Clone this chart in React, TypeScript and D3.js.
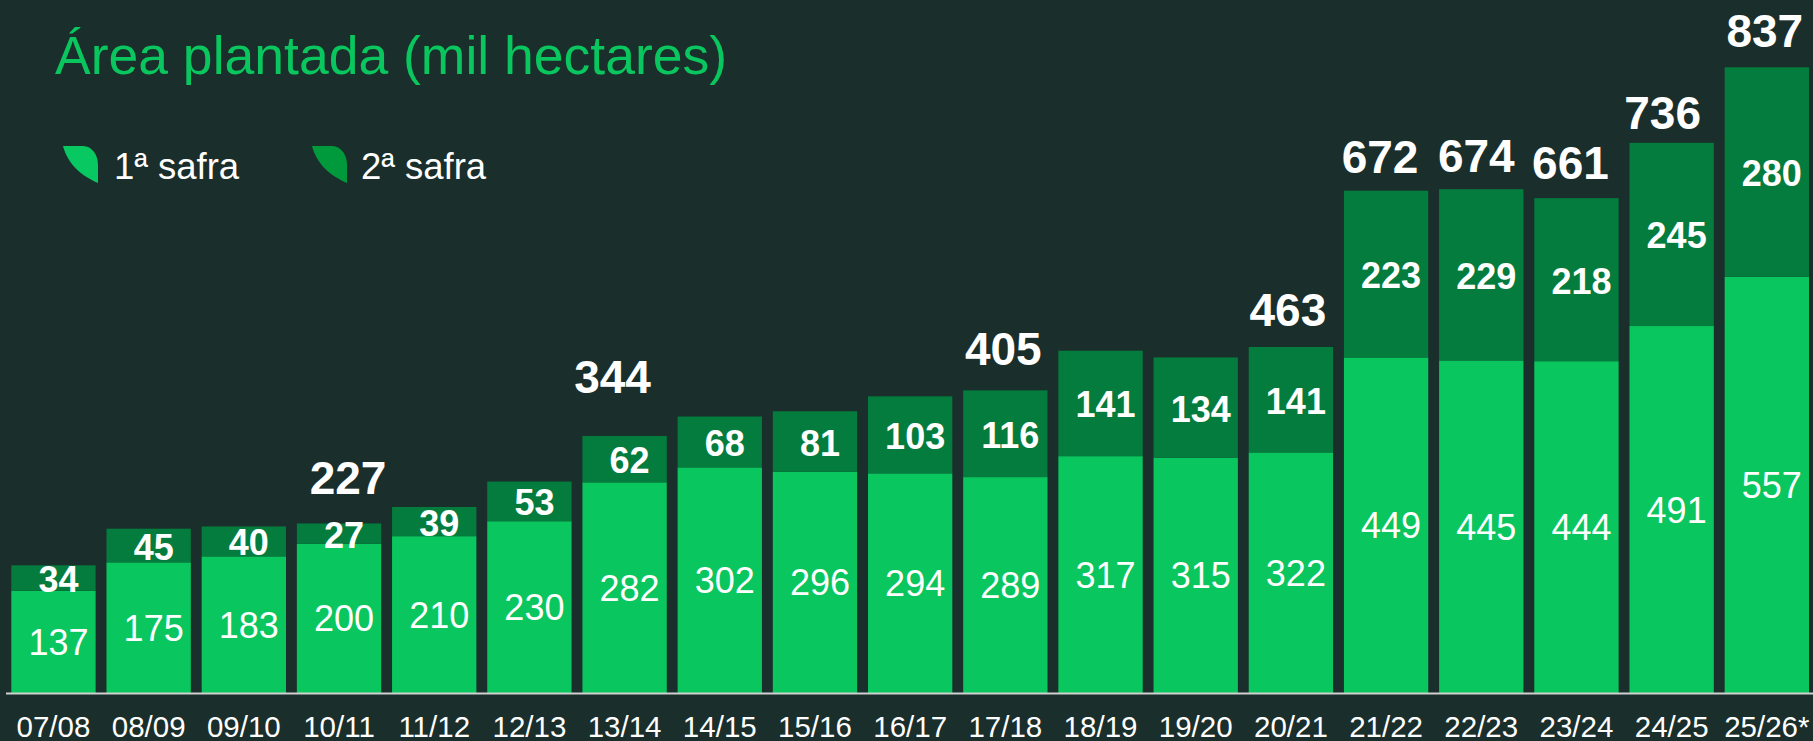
import React, { useRef, useEffect } from "react";
import * as d3 from "d3";

const safras = ["07/08","08/09","09/10","10/11","11/12","12/13","13/14","14/15","15/16","16/17","17/18","18/19","19/20","20/21","21/22","22/23","23/24","24/25","25/26*"];
const primeira = [137,175,183,200,210,230,282,302,296,294,289,317,315,322,449,445,444,491,557];
const segunda = [34,45,40,27,39,53,62,68,81,103,116,141,134,141,223,229,218,245,280];
const totais = [
  { safra: "10/11", total: 227 },
  { safra: "13/14", total: 344 },
  { safra: "17/18", total: 405 },
  { safra: "20/21", total: 463 },
  { safra: "21/22", total: 672 },
  { safra: "22/23", total: 674 },
  { safra: "23/24", total: 661 },
  { safra: "24/25", total: 736 },
  { safra: "25/26*", total: 837 }
];
// hand placed in the original slide
const totalNudge = [
  [9, -29], [-12, -43], [-2, -25], [-3, -21], [-6, -18], [-5, -17], [-6, -19], [-9, -14], [-2, -20]
];

const WIDTH = 1813, HEIGHT = 741;
const BG = "#1a2e2b", LIGHT = "#0ac65e", DARK = "#047c3d", FONT = "'Liberation Sans', Arial, sans-serif";

const rows = safras.map((s, i) => ({ safra: s, primeira: primeira[i], segunda: segunda[i] }));
const stacked = d3.stack<any>().keys(["primeira", "segunda"])(rows);

const x = d3.scaleBand().domain(safras).range([11.3, 1809]).paddingInner(0.114);
const y = d3.scaleLinear().domain([0, 837]).range([693.2, 67.3]);

const leaf = (l: number) => {
  const p = d3.path();
  p.moveTo(l, 146);
  p.lineTo(l + 20, 146);
  p.bezierCurveTo(l + 29, 146, l + 35, 155, l + 35, 165);
  p.lineTo(l + 35, 183);
  p.bezierCurveTo(l + 19, 176, l + 5, 165, l, 146);
  p.closePath();
  return p.toString();
};

const App = () => {
  const axisRef = useRef<SVGGElement>(null);

  useEffect(() => {
    const g = d3.select(axisRef.current!).call(d3.axisBottom(x).tickSize(0).tickPadding(0) as any);
    g.select(".domain").remove();
    g.selectAll("text")
      .attr("font-family", FONT)
      .attr("font-size", 29.5)
      .attr("fill", "#fff")
      .attr("dy", 0)
      .attr("y", 43.5);
  }, []);

  return (
    <svg width={WIDTH} height={HEIGHT} style={{ position: "absolute", left: 0, top: 0, display: "block", background: BG }} fontFamily={FONT}>
      <text x={55} y={73.5} fontSize={53.5} fill="#0ac65e">Área plantada (mil hectares)</text>

      <path d={leaf(63)} fill="#08c862" />
      <text x={114} y={179} fontSize={36.5} fill="#fff">1ª safra</text>
      <path d={leaf(312)} fill="#009a3c" />
      <text x={361} y={179} fontSize={36.5} fill="#fff">2ª safra</text>

      {stacked.map((layer, k) => (
        <g key={layer.key} fill={k === 0 ? LIGHT : DARK}>
          {layer.map((d, i) => (
            <rect key={i} x={x(safras[i])} y={y(d[1])} width={x.bandwidth()} height={y(d[0]) - y(d[1])} />
          ))}
        </g>
      ))}

      <line x1={6} x2={WIDTH} y1={693.5} y2={693.5} stroke="#d0d0d0" strokeWidth={2} />
      <g ref={axisRef} transform={`translate(0,${y(0)})`} />

      {stacked.map((layer, k) => (
        <g key={layer.key} fill="#fff" textAnchor="middle" fontSize={k === 0 ? 36 : 36} fontWeight={k === 0 ? 400 : 700}>
          {layer.map((d, i) => (
            <text key={i} x={x(safras[i])! + x.bandwidth() / 2 + 5} y={(y(d[0]) + y(d[1])) / 2} dy={k === 0 ? "0.36em" : "0.39em"}>
              {d[1] - d[0]}
            </text>
          ))}
        </g>
      ))}

      <g fill="#fff" textAnchor="middle" fontSize={46} fontWeight={700}>
        {totais.map((t, i) => {
          const idx = safras.indexOf(t.safra);
          const top = stacked[1][idx][1];
          return (
            <text key={t.safra} x={x(t.safra)! + x.bandwidth() / 2 + totalNudge[i][0]} y={y(top) + totalNudge[i][1]}>
              {t.total}
            </text>
          );
        })}
      </g>
    </svg>
  );
};

export default App;
